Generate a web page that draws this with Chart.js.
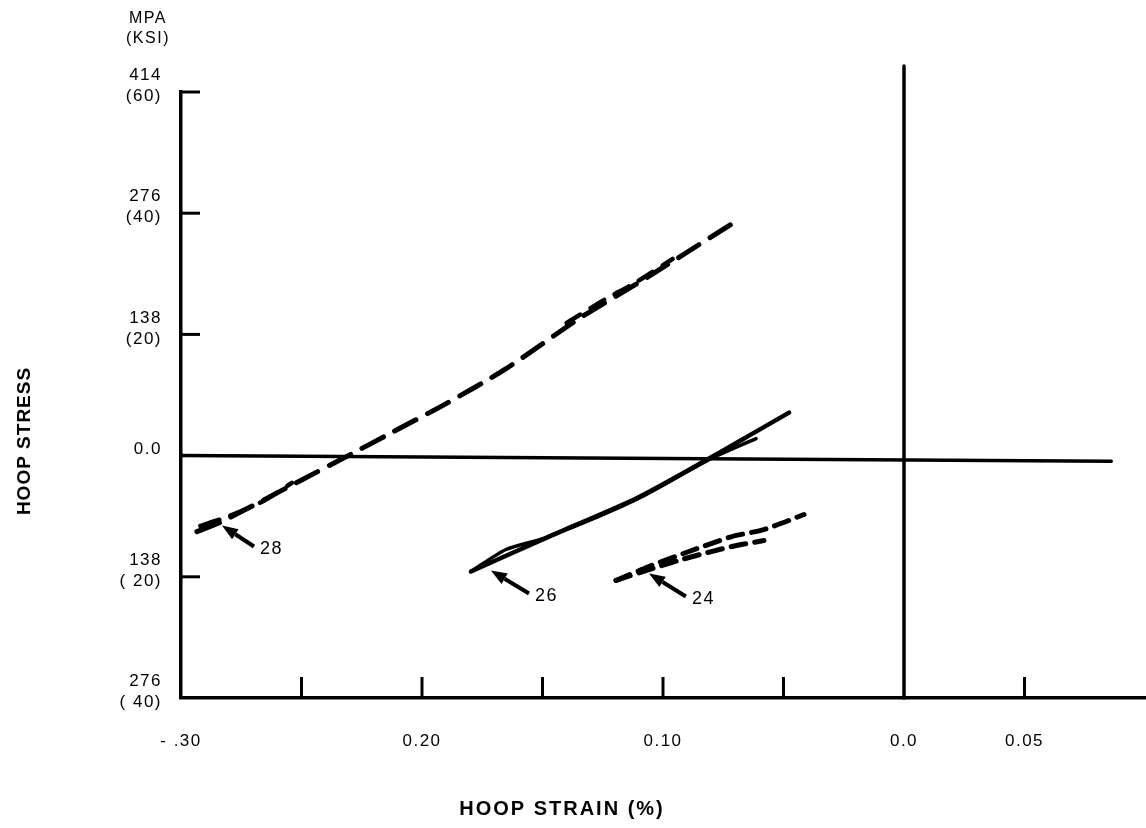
<!DOCTYPE html>
<html>
<head>
<meta charset="utf-8">
<title>Hoop stress vs hoop strain</title>
<script src="https://cdn.jsdelivr.net/npm/chart.js@4.4.1/dist/chart.umd.min.js"></script>
<style>
    body { margin: 0; background: #fff; }
    #wrap { width: 1146px; height: 828px; }
</style>
</head>
<body>
<div id="wrap"><canvas id="hoopChart" width="1146" height="828"></canvas></div>
<script>
// Axis ticks
const xTickValues = [-0.30, -0.25, -0.20, -0.15, -0.10, -0.05, 0, 0.05, 0.10];
const xTickLabels = ['- .30', '', '0.20', '', '0.10', '', '0.0', '0.05', ''];
const yTickValues = [-276, -138, 0, 138, 276, 414];
const yTickLabels = [['276', '( 40)'], ['138', '( 20)'], '0.0', ['138', '(20)'], ['276', '(40)'], ['414', '(60)']];
const xTickMarks = [-0.25, -0.20, -0.15, -0.10, -0.05, 0.05]; // short marks up from the bottom axis
const yTickMarks = [414, 276, 138, -138];                      // short marks right of the left axis

// Specimen 28 (dashed; second branch only shows where it separates)
const strain28a = [-0.2934, -0.2830, -0.2552, -0.2290, -0.2149, -0.1900, -0.1651, -0.1349, -0.1129, -0.0963, -0.0714];
const stress28a = [-86.5, -75.1, -35.3, 2.3, 22.8, 59.2, 99.0, 155.9, 192.3, 220.7, 264.0];
const strain28b = [-0.2920, -0.2815, -0.2660, -0.2540];
const stress28b = [-80.0, -70.5, -52.0, -31.0];
const strain28c = [-0.1400, -0.1240, -0.1120, -0.0960];
const stress28c = [151.0, 178.0, 196.0, 224.0];

// Specimen 26 (solid)
const strain26a = [-0.1797, -0.1473, -0.1112, -0.0809, -0.0614, -0.0477];
const stress26a = [-132.0, -92.2, -48.9, -3.4, 27.3, 48.9];
const strain26b = [-0.1797, -0.1651, -0.1485, -0.1112, -0.0809, -0.0614];
const stress26b = [-132.0, -106.9, -93.3, -50.1, -4.6, 19.3];

// Specimen 24 (short dashes)
const strain24a = [-0.1195, -0.1058, -0.0892, -0.0714, -0.0581, -0.0415];
const stress24a = [-142.2, -126.3, -109.2, -92.2, -84.2, -67.1];
const strain24b = [-0.1195, -0.1058, -0.0892, -0.0714, -0.0581];
const stress24b = [-142.2, -129.7, -116.0, -103.5, -96.7];

// Reference lines through zero
const zeroVertX = [0, 0];
const zeroVertY = [-276, 443.7];
const zeroHorizX = [-0.30, 0.086];
const zeroHorizY = [0, -6.5];

// Arrows pointing at each curve, with specimen numbers
const arrowLabels = ['28', '26', '24'];
const arrowTipX = [-0.2830, -0.1714, -0.1058];
const arrowTipY = [-79.6, -130.8, -134.2];
const arrowTailX = [-0.2697, -0.1556, -0.0905];
const arrowTailY = [-103.5, -157.0, -160.4];

const FONT = "'Liberation Sans', Arial, Helvetica, sans-serif";

function toPoints(xs, ys) {
    return xs.map((x, i) => ({ x: x, y: ys[i] }));
}

function lineSet(xs, ys, dash, width, extra) {
    return Object.assign({
        data: toPoints(xs, ys),
        showLine: true,
        borderColor: '#000',
        borderWidth: width,
        borderDash: dash,
        borderCapStyle: 'round',
        pointRadius: 0,
        tension: 0.25,
        fill: false
    }, extra || {});
}

// Tick marks, arrows and free text
const decorPlugin = {
    id: 'decor',
    beforeDraw(chart) {
        chart.ctx.letterSpacing = '1.5px';
    },
    afterDraw(chart) {
        const ctx = chart.ctx;
        const xs = chart.scales.x;
        const ys = chart.scales.y;
        const area = chart.chartArea;
        ctx.save();
        ctx.strokeStyle = '#000';
        ctx.fillStyle = '#000';
        ctx.lineWidth = 3;
        ctx.lineCap = 'butt';

        xTickMarks.forEach(v => {
            const px = xs.getPixelForValue(v);
            ctx.beginPath();
            ctx.moveTo(px, area.bottom);
            ctx.lineTo(px, area.bottom - 21);
            ctx.stroke();
        });
        yTickMarks.forEach(v => {
            const py = ys.getPixelForValue(v);
            ctx.beginPath();
            ctx.moveTo(area.left, py);
            ctx.lineTo(area.left + 19, py);
            ctx.stroke();
        });

        // arrows
        ctx.font = '18px ' + FONT;
        ctx.textAlign = 'left';
        ctx.textBaseline = 'middle';
        arrowLabels.forEach((lbl, i) => {
            const tx = xs.getPixelForValue(arrowTipX[i]);
            const ty = ys.getPixelForValue(arrowTipY[i]);
            const sx = xs.getPixelForValue(arrowTailX[i]);
            const sy = ys.getPixelForValue(arrowTailY[i]);
            const ang = Math.atan2(ty - sy, tx - sx);
            const headLen = 16, headW = 6;
            const bx = tx - headLen * Math.cos(ang);
            const by = ty - headLen * Math.sin(ang);
            ctx.lineWidth = 4;
            ctx.beginPath();
            ctx.moveTo(sx, sy);
            ctx.lineTo(bx, by);
            ctx.stroke();
            ctx.beginPath();
            ctx.moveTo(tx, ty);
            ctx.lineTo(bx + headW * Math.sin(ang), by - headW * Math.cos(ang));
            ctx.lineTo(bx - headW * Math.sin(ang), by + headW * Math.cos(ang));
            ctx.closePath();
            ctx.fill();
            ctx.fillText(lbl, sx + 6, sy + 3);
        });

        // unit labels above the stress axis
        ctx.textAlign = 'center';
        ctx.font = '16px ' + FONT;
        ctx.fillText('MPA', 148, 19);
        ctx.fillText('(KSI)', 148, 39);

        // axis titles
        ctx.font = 'bold 20px ' + FONT;
        ctx.letterSpacing = '2px';
        ctx.fillText('HOOP STRAIN (%)', 562, 809);
        ctx.translate(25, 441);
        ctx.rotate(-Math.PI / 2);
        ctx.letterSpacing = '1px';
        ctx.font = 'bold 19px ' + FONT;
        ctx.fillText('HOOP STRESS', 0, 0);
        ctx.restore();
    }
};

const canvas = document.getElementById('hoopChart');
const ctx = canvas.getContext('2d');

const hoopChart = new Chart(ctx, {
    type: 'scatter',
    data: {
        datasets: [
            lineSet(zeroVertX, zeroVertY, [], 3.5, { tension: 0, clip: false }),
            lineSet(zeroHorizX, zeroHorizY, [], 3.5, { tension: 0 }),
            lineSet(strain28a, stress28a, [24, 13], 5),
            lineSet(strain28b, stress28b, [20, 12], 4.5),
            lineSet(strain28c, stress28c, [16, 12], 4.5),
            lineSet(strain26a, stress26a, [], 4.5),
            lineSet(strain26b, stress26b, [], 3.5),
            lineSet(strain24a, stress24a, [15, 9], 5),
            lineSet(strain24b, stress24b, [15, 9], 5)
        ]
    },
    options: {
        responsive: false,
        animation: false,
        devicePixelRatio: 1,
        layout: { padding: { top: 92, right: 1, left: 0, bottom: 0 } },
        plugins: {
            legend: { display: false },
            tooltip: { enabled: false }
        },
        scales: {
            x: {
                type: 'linear',
                min: -0.30,
                max: 0.10,
                afterFit: scale => {
                    scale.height = 130;
                    scale.paddingLeft = 0;
                    scale.paddingRight = 0;
                },
                afterBuildTicks: scale => {
                    scale.ticks = xTickValues.map(v => ({ value: v }));
                },
                grid: { display: false, drawTicks: false },
                border: { display: true, color: '#000', width: 3.5 },
                ticks: {
                    autoSkip: false,
                    maxRotation: 0,
                    padding: 33,
                    color: '#000',
                    font: { family: FONT, size: 17 },
                    callback: function(value) {
                        const i = xTickValues.findIndex(v => Math.abs(v - value) < 1e-6);
                        return i >= 0 ? xTickLabels[i] : '';
                    }
                }
            },
            y: {
                type: 'linear',
                min: -276,
                max: 414,
                afterFit: scale => {
                    scale.width = 181;
                    scale.paddingTop = 0;
                    scale.paddingBottom = 0;
                },
                afterBuildTicks: scale => {
                    scale.ticks = yTickValues.map(v => ({ value: v }));
                },
                grid: { display: false, drawTicks: false },
                border: { display: true, color: '#000', width: 3.5 },
                ticks: {
                    autoSkip: false,
                    padding: 19,
                    labelOffset: -6,
                    color: '#000',
                    font: { family: FONT, size: 17, lineHeight: '21px' },
                    callback: function(value) {
                        const i = yTickValues.findIndex(v => Math.abs(v - value) < 1e-6);
                        return i >= 0 ? yTickLabels[i] : '';
                    }
                }
            }
        }
    },
    plugins: [decorPlugin]
});
</script>
</body>
</html>
